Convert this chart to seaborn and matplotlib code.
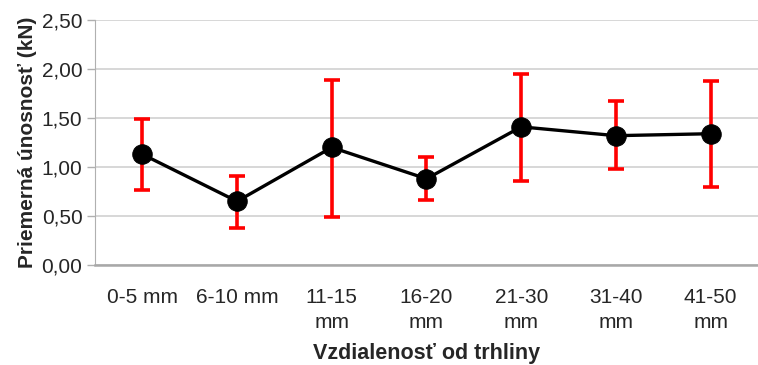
import numpy as np
import pandas as pd
import seaborn as sns
import matplotlib.pyplot as plt

kategorie = ['0-5 mm', '6-10 mm', '11-15\nmm', '16-20\nmm', '21-30\nmm', '31-40\nmm', '41-50\nmm']
unosnost = [1.13, 0.65, 1.20, 0.88, 1.41, 1.32, 1.34]
horna = [1.49, 0.91, 1.89, 1.10, 1.95, 1.67, 1.88]
dolna = [0.77, 0.38, 0.49, 0.66, 0.86, 0.98, 0.80]
y_ticky = [0.0, 0.5, 1.0, 1.5, 2.0, 2.5]

df = pd.DataFrame({'kat': kategorie, 'unosnost': unosnost,
                   'horna': horna, 'dolna': dolna})

sns.set_style('white')
plt.rcParams['font.family'] = ['Liberation Sans', 'DejaVu Sans']

fig = plt.figure(figsize=(7.58, 3.65), dpi=100)
ax = fig.add_axes([0.1253, 0.274, 0.8747, 0.671])

ax.errorbar(df['kat'], df['unosnost'],
            yerr=[df['unosnost'] - df['dolna'], df['horna'] - df['unosnost']],
            fmt='none', ecolor='#ff0000', elinewidth=2.6, capsize=6,
            capthick=2.6, zorder=2)
sns.lineplot(data=df, x='kat', y='unosnost', color='black', linewidth=2.4,
             marker='o', markersize=14, markeredgecolor='black',
             sort=False, ax=ax, zorder=3)

ax.set_ylim(0, 2.5)
ax.set_xlim(-0.5, 6.42)
ax.set_yticks(y_ticky)
ax.set_yticklabels([f'{v:.2f}'.replace('.', ',') for v in y_ticky], fontsize=15)
ax.set_xticks(np.arange(len(kategorie)))
ax.set_xticklabels(kategorie, fontsize=15, linespacing=1.42)
ax.set_xticks(np.arange(-0.5, len(kategorie)), minor=True)
ax.tick_params(axis='x', which='major', length=0, pad=16.5)
ax.tick_params(axis='x', which='minor', length=6, width=1, color='#b0b0b0', direction='out')
ax.tick_params(axis='y', length=6, width=1, color='#b0b0b0', direction='out', pad=3, left=True)

ax.grid(axis='y', color='#d4d4d4', linewidth=1.3)
ax.set_axisbelow(True)
for s in ['top', 'right']:
    ax.spines[s].set_visible(False)
ax.spines['left'].set_color('#b0b0b0')
ax.spines['bottom'].set_color('#a8a8a8')
ax.spines['bottom'].set_linewidth(1.8)

ax.set_xlabel('Vzdialenosť od trhliny', fontsize=15.5, fontweight='bold', labelpad=8)
ax.set_ylabel('Priemerná únosnosť (kN)', fontsize=15, fontweight='bold', labelpad=3)

fig.savefig('out.png', dpi=100)
